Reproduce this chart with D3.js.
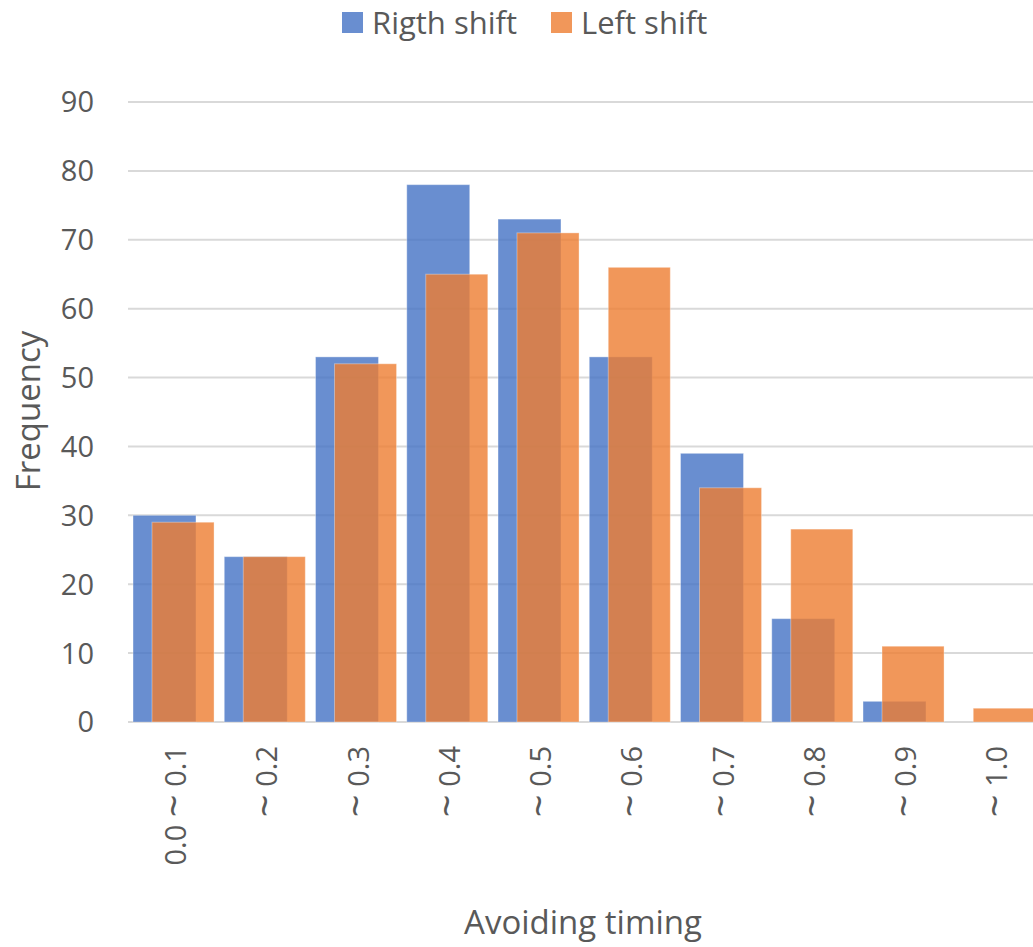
<!DOCTYPE html>
<html><head><meta charset="utf-8">
<script src="https://cdn.jsdelivr.net/npm/d3@7"></script>
<style>body{margin:0;background:#fff;overflow:hidden;} text{font-family:"Open Sans","Noto Sans",sans-serif;fill:#595959;}</style>
</head><body>
<svg id="c" width="1033" height="947"></svg>
<script>
const categories = ["0.0 ~ 0.1","~ 0.2","~ 0.3","~ 0.4","~ 0.5","~ 0.6","~ 0.7","~ 0.8","~ 0.9","~ 1.0"];
const rightShift = [30,24,53,78,73,53,39,15,3,0];
const leftShift = [29,24,52,65,71,66,34,28,11,2];
const seriesNames = ["Rigth shift","Left shift"];
const yTicks = [0,10,20,30,40,50,60,70,80,90];

(function(){
const svg = d3.select("#c");
const pL = 128, pR = 1040.5, pT = 102, pB = 722;
const x = d3.scaleBand().domain(categories).range([pL, pR]).paddingInner(0).paddingOuter(0);
const y = d3.scaleLinear().domain([0, 90]).range([pB, pT]);
const bw = x.bandwidth();

svg.append("g").selectAll("line").data(yTicks).join("line")
  .attr("x1", pL).attr("x2", 1033)
  .attr("y1", d => y(d)).attr("y2", d => y(d))
  .attr("stroke", "#d9d9d9").attr("stroke-width", 2);

svg.append("g").selectAll("text").data(yTicks).join("text")
  .attr("x", 94).attr("y", d => y(d)).attr("dy", "0.36em")
  .attr("text-anchor", "end").attr("font-size", 29).text(d => d);

const blue = "#4472c4", orange = "#ed7d31";
const gap = bw * 0.055;
const w1 = bw * 0.69, off2 = bw * 0.263, w2 = bw * 0.68;

svg.append("g").selectAll("rect").data(rightShift).join("rect")
  .attr("x", (d,i) => x(categories[i]) + gap)
  .attr("y", d => y(d)).attr("width", w1).attr("height", d => y(0) - y(d))
  .attr("fill", blue).attr("fill-opacity", 0.8)
  .attr("stroke", "#fff").attr("stroke-opacity", 0.35).attr("stroke-width", 1);

svg.append("g").selectAll("rect").data(leftShift).join("rect")
  .attr("x", (d,i) => x(categories[i]) + off2)
  .attr("y", d => y(d)).attr("width", w2).attr("height", d => y(0) - y(d))
  .attr("fill", orange).attr("fill-opacity", 0.8)
  .attr("stroke", "#fff").attr("stroke-opacity", 0.35).attr("stroke-width", 1);

// category labels, rotated; tilde drawn larger like the reference font
const cl = svg.append("g").selectAll("text").data(categories).join("text")
  .attr("transform", d => `translate(${x(d) + bw/2 + 12},746) rotate(-90)`)
  .attr("text-anchor", "end").attr("font-size", 29);
cl.each(function(d){
  const t = d3.select(this);
  const parts = d.split("~");
  if (parts[0]) t.append("tspan").text(parts[0]);
  t.append("tspan").attr("font-size", 40).attr("dy", "0.05em").text("~");
  t.append("tspan").attr("dy", "-0.05em").text(parts[1]);
});

svg.append("text").attr("x", 583).attr("y", 922).attr("dy", "0.36em")
  .attr("text-anchor", "middle").attr("font-size", 33).text("Avoiding timing");
svg.append("text").attr("transform", `translate(28,411) rotate(-90)`)
  .attr("dy", "0.36em").attr("text-anchor", "middle").attr("font-size", 33).text("Frequency");

const lg = svg.append("g");
const legX = [342, 551];
[blue, orange].forEach((c, i) => {
  lg.append("rect").attr("x", legX[i]).attr("y", 12).attr("width", 21).attr("height", 21)
    .attr("fill", c).attr("fill-opacity", 0.8);
  lg.append("text").attr("x", legX[i] + 30).attr("y", 23).attr("dy", "0.36em")
    .attr("font-size", 31).text(seriesNames[i]);
});
})();
</script>
</body></html>
